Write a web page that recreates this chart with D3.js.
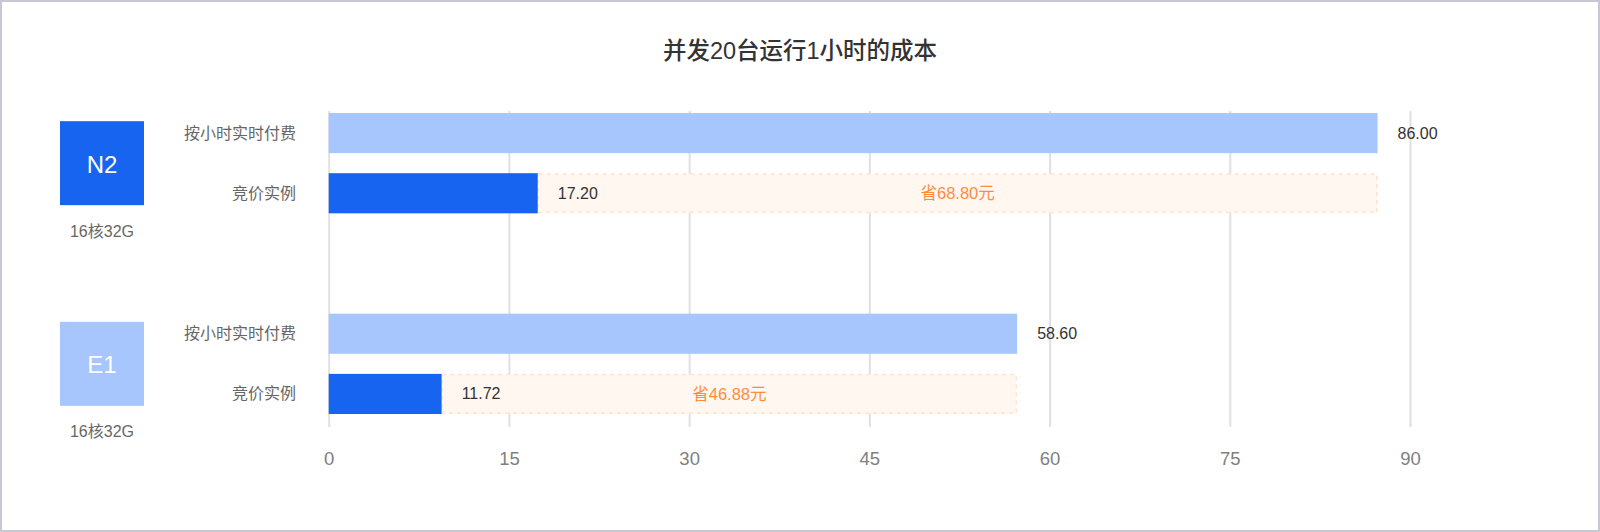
<!DOCTYPE html>
<html>
<head>
<meta charset="utf-8">
<script src="https://cdn.jsdelivr.net/npm/d3@7"></script>
<style>
  html, body { margin: 0; padding: 0; background: #fff; }
  svg { display: block; font-family: "Liberation Sans", "Noto Sans CJK SC", sans-serif; }
</style>
</head>
<body>
<div id="chart"></div>
<script>
WIDTH = 1600;
HEIGHT = 532;

// instance types and their specs
var groups = ["N2", "E1"];
var groupSpecs = ["16核32G", "16核32G"];
var pricingTypes = ["按小时实时付费", "竞价实例"];

// bar lengths (cost in 元)
var hourlyCost = [87.3, 57.3];
var spotCost = [17.4, 9.4];

// printed value labels
var hourlyLabels = ["86.00", "58.60"];
var spotLabels = ["17.20", "11.72"];
var savingLabels = ["省68.80元", "省46.88元"];

var xTicks = [0, 15, 30, 45, 60, 75, 90];

var groupColors = ["#1664ef", "#a6c6fd"];
var hourlyColor = "#a6c6fd";
var spotColor = "#1664ef";

var svg = d3
  .select("#chart")
  .append("svg")
  .attr("width", WIDTH)
  .attr("height", HEIGHT);

// frame
svg
  .append("rect")
  .attr("x", 1)
  .attr("y", 1)
  .attr("width", WIDTH - 2)
  .attr("height", HEIGHT - 2)
  .attr("fill", "#fff")
  .attr("stroke", "#c8c8d4")
  .attr("stroke-width", 2);

svg
  .append("text")
  .attr("x", WIDTH / 2)
  .attr("y", 51)
  .attr("text-anchor", "middle")
  .attr("dominant-baseline", "central")
  .attr("font-size", 23.5)
  .attr("font-weight", 500)
  .attr("fill", "#333")
  .text("并发20台运行1小时的成本");

const plotTop = 111;
const plotBottom = 427;

const xScale = d3.scaleLinear().domain([0, 90]).range([328.7, 1410]);

const groupScale = d3
  .scaleBand()
  .domain(groups)
  .range([113, 414])
  .paddingInner(0.5);

const rowScale = d3
  .scaleBand()
  .domain(pricingTypes)
  .range([0, groupScale.bandwidth()])
  .paddingInner(1 / 3);

// grid + tick labels
var axis_g = svg
  .append("g")
  .attr("transform", "translate(0," + plotBottom + ")")
  .call(
    d3
      .axisBottom(xScale)
      .tickValues(xTicks)
      .tickSizeInner(-(plotBottom - plotTop))
      .tickSizeOuter(0)
      .tickPadding(25)
  );
axis_g.select(".domain").remove();
axis_g
  .selectAll(".tick line")
  .attr("stroke", "#e0e0e0")
  .attr("stroke-width", 2);
axis_g
  .selectAll(".tick text")
  .attr("font-size", 18.5)
  .attr("fill", "#808080")
  .attr("font-family", "Liberation Sans, Noto Sans CJK SC, sans-serif");

var rows = groups.map(function(g, i) {
  return {
    group: g,
    spec: groupSpecs[i],
    color: groupColors[i],
    hourly: hourlyCost[i],
    spot: spotCost[i],
    hourlyLabel: hourlyLabels[i],
    spotLabel: spotLabels[i],
    saving: savingLabels[i]
  };
});

var group_g = svg
  .selectAll("g.group")
  .data(rows)
  .enter()
  .append("g")
  .attr("class", "group")
  .attr("transform", d => "translate(0," + groupScale(d.group) + ")");

const mid = groupScale.bandwidth() / 2;

// instance badge
group_g
  .append("rect")
  .attr("x", 60)
  .attr("y", mid - 42)
  .attr("width", 84)
  .attr("height", 84)
  .attr("fill", d => d.color);

group_g
  .append("text")
  .attr("x", 102)
  .attr("y", mid + 1)
  .attr("text-anchor", "middle")
  .attr("dominant-baseline", "central")
  .attr("font-size", 24)
  .attr("fill", "#fff")
  .text(d => d.group);

group_g
  .append("text")
  .attr("x", 102)
  .attr("y", mid + 68)
  .attr("text-anchor", "middle")
  .attr("dominant-baseline", "central")
  .attr("font-size", 16)
  .attr("fill", "#666")
  .text(d => d.spec);

// row labels
group_g
  .selectAll("text.row")
  .data(pricingTypes)
  .enter()
  .append("text")
  .attr("class", "row")
  .attr("x", 296)
  .attr("y", d => rowScale(d) + rowScale.bandwidth() / 2)
  .attr("text-anchor", "end")
  .attr("dominant-baseline", "central")
  .attr("font-size", 16)
  .attr("fill", "#666")
  .text(d => d);

const hourlyY = rowScale(pricingTypes[0]);
const spotY = rowScale(pricingTypes[1]);
const bh = rowScale.bandwidth();

// hourly bar
group_g
  .append("rect")
  .attr("x", xScale(0))
  .attr("y", hourlyY)
  .attr("width", d => xScale(d.hourly) - xScale(0))
  .attr("height", bh)
  .attr("fill", hourlyColor);

group_g
  .append("text")
  .attr("x", d => xScale(d.hourly) + 20)
  .attr("y", hourlyY + bh / 2)
  .attr("dominant-baseline", "central")
  .attr("font-size", 16)
  .attr("fill", "#333")
  .text(d => d.hourlyLabel);

// savings box (gap between spot and hourly)
group_g
  .append("rect")
  .attr("x", d => xScale(d.spot) + 0.75)
  .attr("y", spotY + 0.75)
  .attr("width", d => xScale(d.hourly) - xScale(d.spot) - 1.5)
  .attr("height", bh - 1.5)
  .attr("fill", "#fff7f0")
  .attr("stroke", "#ffe2cf")
  .attr("stroke-width", 1.5)
  .attr("stroke-dasharray", "4 4");

// spot bar
group_g
  .append("rect")
  .attr("x", xScale(0))
  .attr("y", spotY)
  .attr("width", d => xScale(d.spot) - xScale(0))
  .attr("height", bh)
  .attr("fill", spotColor);

group_g
  .append("text")
  .attr("x", d => xScale(d.spot) + 20)
  .attr("y", spotY + bh / 2)
  .attr("dominant-baseline", "central")
  .attr("font-size", 16)
  .attr("fill", "#333")
  .text(d => d.spotLabel);

group_g
  .append("text")
  .attr("x", d => (xScale(d.spot) + xScale(d.hourly)) / 2)
  .attr("y", spotY + bh / 2)
  .attr("text-anchor", "middle")
  .attr("dominant-baseline", "central")
  .attr("font-size", 16.5)
  .attr("fill", "#ff8c3c")
  .text(d => d.saving);
</script>
</body>
</html>
